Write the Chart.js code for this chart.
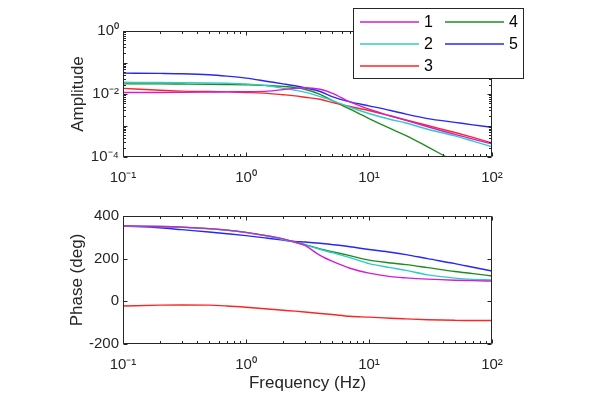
<!DOCTYPE html>
<html>
<head>
<meta charset="utf-8">
<script src="https://cdn.jsdelivr.net/npm/chart.js@4.4.1/dist/chart.umd.min.js"></script>
<style>
  html, body { margin: 0; padding: 0; background: #ffffff; }
  body { width: 598px; height: 395px; position: relative; overflow: hidden; }
  #wrapTop { position: absolute; left: 0; top: 0; width: 598px; height: 197px; }
  #wrapBot { position: absolute; left: 0; top: 197px; width: 598px; height: 198px; }
</style>
</head>
<body>
<div id="wrapTop"><canvas id="amp"></canvas></div>
<div id="wrapBot"><canvas id="phase"></canvas></div>
<script>
// ---------------- data ----------------
const freq = [0.1, 0.2, 0.3, 0.5, 0.7, 1, 1.5, 2, 2.5, 3, 4, 5, 7, 10, 15, 20, 30, 50, 70, 100];
const seriesNames = ['1', '2', '3', '4', '5'];
const seriesColors = ['#d21ed2', '#2dcccc', '#ff2424', '#1f8c1f', '#2626ff'];

const amp1 = [1.12e-2, 1.12e-2, 1.13e-2, 1.15e-2, 1.17e-2, 1.18e-2, 1.23e-2, 1.38e-2, 1.51e-2, 1.58e-2, 1.41e-2, 1.07e-2, 5.6e-3, 3.3e-3, 2.0e-3, 1.45e-3, 9.1e-4, 5.2e-4, 3.7e-4, 2.6e-4];
const amp2 = [2.35e-2, 2.33e-2, 2.30e-2, 2.25e-2, 2.19e-2, 2.09e-2, 1.82e-2, 1.51e-2, 1.32e-2, 1.15e-2, 8.3e-3, 6.3e-3, 3.8e-3, 2.4e-3, 1.55e-3, 1.2e-3, 7.6e-4, 4.7e-4, 3.2e-4, 2.1e-4];
const amp3 = [1.51e-2, 1.32e-2, 1.23e-2, 1.20e-2, 1.17e-2, 1.12e-2, 1.05e-2, 9.5e-3, 8.7e-3, 7.9e-3, 6.8e-3, 5.4e-3, 4.0e-3, 3.0e-3, 2.0e-3, 1.5e-3, 1.0e-3, 6.0e-4, 4.2e-4, 2.8e-4];
const amp4 = [2.09e-2, 2.09e-2, 2.07e-2, 2.04e-2, 2.0e-2, 1.95e-2, 1.86e-2, 1.74e-2, 1.6e-2, 1.41e-2, 9.8e-3, 6.3e-3, 3.3e-3, 1.66e-3, 7.9e-4, 4.8e-4, 2.1e-4, 7.1e-5, 3.5e-5, 1.7e-5];
const amp5 = [4.6e-2, 4.5e-2, 4.4e-2, 4.1e-2, 3.7e-2, 3.2e-2, 2.5e-2, 2.1e-2, 1.82e-2, 1.58e-2, 1.2e-2, 8.3e-3, 5.6e-3, 4.2e-3, 3.0e-3, 2.3e-3, 1.66e-3, 1.26e-3, 1.05e-3, 8.7e-4];

const phase1 = [353, 351, 348, 341, 334, 323, 307, 293, 277, 262, 215, 188, 155, 132, 116, 110, 104, 99, 97, 95];
const phase2 = [352, 350, 347, 340, 333, 322, 306, 291, 277, 265, 243, 228, 205, 177, 158, 145, 124, 109, 103, 100];
const phase3 = [-22, -18, -17, -18, -22, -28, -36, -42, -46, -50, -57, -62, -70, -74, -79, -82, -86, -89, -90, -90];
const phase4 = [353, 351, 348, 341, 334, 323, 306, 291, 278, 267, 246, 233, 214, 193, 180, 172, 158, 140, 130, 119];
const phase5 = [353, 345, 336, 325, 317, 308, 296, 287, 281, 278, 272, 266, 256, 243, 230, 219, 200, 177, 160, 142];

const freqTicks = [0.1, 1, 10, 100];
const freqTickLabels = ['10\u207B\u00B9', '10\u2070', '10\u00B9', '10\u00B2'];
const ampTicks = [1e-4, 1e-2, 1];
const ampTickLabels = ['10\u207B\u2074', '10\u207B\u00B2', '10\u2070'];
const phaseTicks = [-200, 0, 200, 400];

// ---------------- helpers ----------------
const AXIS = '#262626';
const FONT = "'Liberation Sans', Arial, Helvetica, sans-serif";

function pts(ys) { return freq.map((f, i) => ({ x: f, y: ys[i] })); }
function makeSets(arrs) {
  return arrs.map((a, i) => ({
    label: seriesNames[i], data: pts(a), borderColor: seriesColors[i],
    borderWidth: 1.4, pointRadius: 0, fill: false, cubicInterpolationMode: 'monotone'
  }));
}
function logMinor(lo, hi) {
  const out = [];
  for (let d = lo; d < hi; d *= 10) for (let k = 2; k <= 9; k++) out.push(d * k);
  return out;
}
function logMajor(lo, hi) {
  const out = [];
  for (let d = lo; d <= hi * 1.0001; d *= 10) out.push(d);
  return out;
}

const frameTicks = {
  id: 'frameTicks',
  afterDatasetsDraw(chart, args, o) {
    const { ctx, chartArea: a, scales } = chart;
    const xs = scales.x, ys = scales.y;
    ctx.save();
    ctx.strokeStyle = AXIS; ctx.lineWidth = 1;
    ctx.beginPath();
    const L = Math.round(a.left) + 0.5, R = Math.round(a.right) - 0.5;
    const T = Math.round(a.top) + 0.5, B = Math.round(a.bottom) - 0.5;
    ctx.rect(L, T, R - L, B - T);
    const tx = (v, len) => {
      const p = Math.round(xs.getPixelForValue(v)) + 0.5;
      ctx.moveTo(p, B); ctx.lineTo(p, B - len);
      ctx.moveTo(p, T); ctx.lineTo(p, T + len);
    };
    const ty = (v, len) => {
      const p = Math.round(ys.getPixelForValue(v)) + 0.5;
      ctx.moveTo(L, p); ctx.lineTo(L + len, p);
      ctx.moveTo(R, p); ctx.lineTo(R - len, p);
    };
    o.xMajor.forEach(v => tx(v, 4));
    o.xMinor.forEach(v => tx(v, 2.5));
    o.yMajor.forEach(v => ty(v, 4));
    o.yMinor.forEach(v => ty(v, 2.5));
    ctx.stroke();
    ctx.restore();
  }
};

const legendBox = {
  id: 'legendBox',
  afterDraw(chart) {
    const { ctx } = chart;
    const sets = chart.data.datasets;
    const bx = 353.5, by = 8.5, bw = 170, bh = 70;
    ctx.save();
    ctx.fillStyle = '#ffffff';
    ctx.fillRect(bx, by, bw, bh);
    ctx.strokeStyle = AXIS; ctx.lineWidth = 1;
    ctx.strokeRect(bx, by, bw, bh);
    ctx.font = '16px ' + FONT;
    ctx.textBaseline = 'middle';
    ctx.textAlign = 'left';
    const cols = [360, 445];
    const rows = [22, 44, 66];
    sets.forEach((s, i) => {
      const c = i < 3 ? 0 : 1;
      const r = i < 3 ? i : i - 3;
      const x = cols[c], y = rows[r];
      ctx.strokeStyle = s.borderColor; ctx.lineWidth = 1.5;
      ctx.beginPath(); ctx.moveTo(x, y); ctx.lineTo(x + 59, y); ctx.stroke();
      ctx.fillStyle = '#000000';
      ctx.fillText(s.label, x + 64, y + 1);
    });
    ctx.restore();
  }
};

function xScale(showTitle, h, titlePad) {
  return {
    type: 'logarithmic', min: 0.1, max: 100,
    grid: { display: false, drawTicks: false },
    border: { display: false },
    afterBuildTicks: s => { s.ticks = freqTicks.map(v => ({ value: v })); },
    afterFit: s => { s.height = h; },
    ticks: {
      autoSkip: false, maxRotation: 0, padding: 12, color: AXIS,
      font: { family: FONT, size: 15 },
      callback: v => { const i = freqTicks.findIndex(t => Math.abs(t - v) / t < 1e-6); return i >= 0 ? freqTickLabels[i] : ''; }
    },
    title: { display: showTitle, text: 'Frequency (Hz)', color: AXIS, font: { family: FONT, size: 17 }, padding: { top: 0, bottom: titlePad } }
  };
}

Chart.defaults.animation = false;
Chart.defaults.responsive = false;

// ---------------- top: amplitude ----------------
const cTop = document.getElementById('amp');
cTop.width = 598; cTop.height = 197;
new Chart(cTop, {
  type: 'line',
  data: { datasets: makeSets([amp1, amp2, amp3, amp4, amp5]) },
  options: {
    responsive: false, animation: false,
    layout: { padding: { left: 0, right: 106, top: 31, bottom: 0 } },
    plugins: {
      legend: { display: false }, tooltip: { enabled: false },
      frameTicks: { xMajor: logMajor(0.1, 100), xMinor: logMinor(0.1, 100), yMajor: logMajor(1e-4, 1), yMinor: logMinor(1e-4, 1) }
    },
    scales: {
      x: xScale(false, 40, 0),
      y: {
        type: 'logarithmic', min: 1e-4, max: 1,
        grid: { display: false, drawTicks: false },
        border: { display: false },
        afterBuildTicks: s => { s.ticks = ampTicks.map(v => ({ value: v })); },
        afterFit: s => { s.width = 123; },
        ticks: {
          autoSkip: false, padding: 4, color: AXIS,
          font: { family: FONT, size: 15 },
          callback: v => { const i = ampTicks.findIndex(t => Math.abs(t - v) / t < 1e-6); return i >= 0 ? ampTickLabels[i] : ''; }
        },
        title: { display: true, text: 'Amplitude', color: AXIS, font: { family: FONT, size: 17 }, padding: { top: 68, bottom: 0 } }
      }
    }
  },
  plugins: [frameTicks, legendBox]
});

// ---------------- bottom: phase ----------------
const cBot = document.getElementById('phase');
cBot.width = 598; cBot.height = 198;
new Chart(cBot, {
  type: 'line',
  data: { datasets: makeSets([phase1, phase2, phase3, phase4, phase5]) },
  options: {
    responsive: false, animation: false,
    layout: { padding: { left: 0, right: 106, top: 19, bottom: 0 } },
    plugins: {
      legend: { display: false }, tooltip: { enabled: false },
      frameTicks: { xMajor: logMajor(0.1, 100), xMinor: logMinor(0.1, 100), yMajor: phaseTicks, yMinor: [] }
    },
    scales: {
      x: xScale(true, 51, 1),
      y: {
        type: 'linear', min: -200, max: 400,
        grid: { display: false, drawTicks: false },
        border: { display: false },
        afterBuildTicks: s => { s.ticks = phaseTicks.map(v => ({ value: v })); },
        afterFit: s => { s.width = 123; },
        ticks: { autoSkip: false, padding: 4, color: AXIS, font: { family: FONT, size: 15 } },
        title: { display: true, text: 'Phase (deg)', color: AXIS, font: { family: FONT, size: 17 }, padding: { top: 67, bottom: 0 } }
      }
    }
  },
  plugins: [frameTicks]
});
</script>
</body>
</html>
